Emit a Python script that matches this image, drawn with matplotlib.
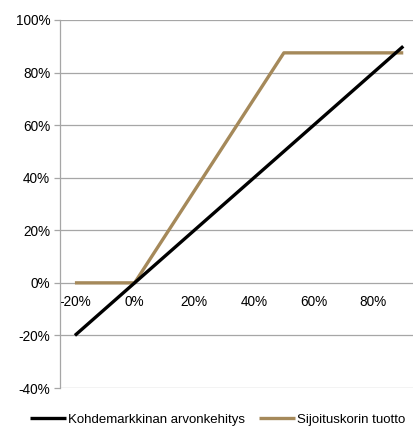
import matplotlib.pyplot as plt
from matplotlib.ticker import PercentFormatter

plt.rcParams['font.family'] = ['Liberation Sans', 'DejaVu Sans']
plt.rcParams['axes.unicode_minus'] = False

# market development (x) vs. basket return
market_x = [-0.2, 0.0, 0.9]
market_y = [-0.2, 0.0, 0.9]
basket_x = [-0.2, 0.0, 0.5, 0.9]
basket_y = [0.0, 0.0, 0.875, 0.875]

y_ticks = [-0.4, -0.2, 0.0, 0.2, 0.4, 0.6, 0.8, 1.0]
x_ticks = [-0.2, 0.0, 0.2, 0.4, 0.6, 0.8]

fig = plt.figure(figsize=(4.14, 4.28), dpi=100)
ax = fig.add_axes([60 / 414, 1 - 388 / 428, 1 - 60 / 414, 368 / 428])

grid_c = '#A6A6A6'
for yv in y_ticks:
    ax.axhline(yv, color=grid_c, linewidth=0.9, zorder=1)

ax.plot(market_x, market_y, color='black', linewidth=2.4,
        label='Kohdemarkkinan arvonkehitys', zorder=3, solid_capstyle='butt')
ax.plot(basket_x, basket_y, color='#A5895A', linewidth=2.4,
        label='Sijoituskorin tuotto', zorder=2, solid_capstyle='butt')

ax.set_xlim(-0.25, 0.936)
ax.set_ylim(-0.4, 1.0)
ax.set_yticks(y_ticks)
ax.set_xticks(x_ticks)
ax.yaxis.set_major_formatter(PercentFormatter(1.0, decimals=0))
ax.xaxis.set_major_formatter(PercentFormatter(1.0, decimals=0))

for s in ['top', 'right']:
    ax.spines[s].set_visible(False)
ax.spines['left'].set_color(grid_c)
ax.spines['left'].set_linewidth(0.9)
ax.spines['bottom'].set_position(('data', 0))
ax.spines['bottom'].set_visible(False)

ax.tick_params(axis='y', length=4, width=0.9, color=grid_c, labelsize=9.8, pad=3)
ax.tick_params(axis='x', length=0, labelsize=9.8, pad=9)

ax.legend(loc='upper center', bbox_to_anchor=(0.445, -0.055), ncol=2, frameon=False,
          fontsize=9.5, handlelength=2.7, handletextpad=0.15, columnspacing=1.1,
          borderaxespad=0)

fig.savefig('out.png', dpi=100)
